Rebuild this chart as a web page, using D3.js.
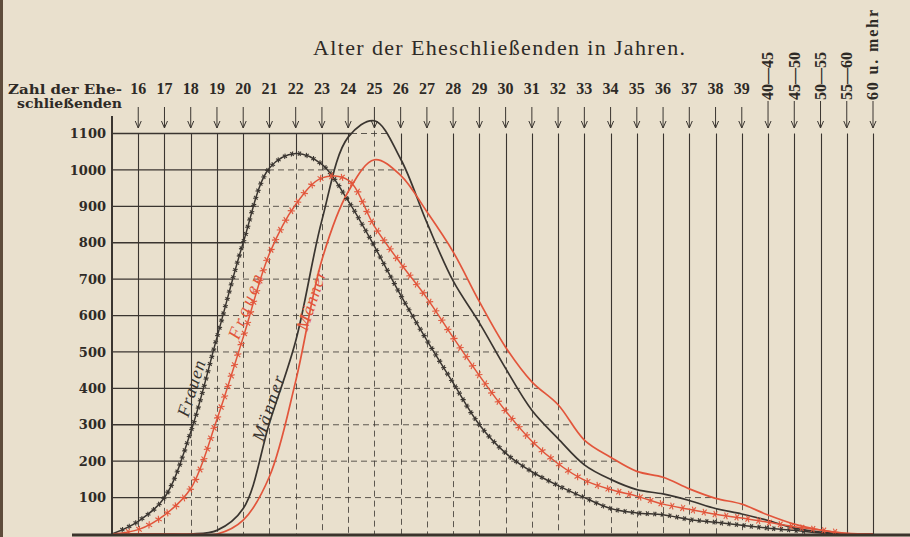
<!DOCTYPE html>
<html>
<head>
<meta charset="utf-8">
<script src="https://cdn.jsdelivr.net/npm/d3@7"></script>
<style>
    body { margin: 0; background: #e9e0cd; }
    svg { display: block; }
</style>
</head>
<body>
<svg id="chart" width="910" height="537"></svg>
<script>
// first entry "15" is the origin on the y axis, it gets no label
const ages = ["15", "16", "17", "18", "19", "20", "21", "22", "23", "24", "25", "26", "27", "28", "29",
    "30", "31", "32", "33", "34", "35", "36", "37", "38", "39", "40—45", "45—50", "50—55", "55—60", "60 u. mehr"];
const yTicks = [100, 200, 300, 400, 500, 600, 700, 800, 900, 1000, 1100];

const frauenSchwarz = [0, 35, 100, 280, 540, 800, 1005, 1045, 1015, 915, 790, 656, 532, 415, 300,
    222, 171, 133, 100, 70, 58, 53, 40, 32, 24, 16, 10, 3, 0, 0];
const maennerSchwarz = [0, 0, 0, 0, 10, 70, 305, 530, 862, 1090, 1135, 1030, 855, 695, 580,
    455, 340, 262, 190, 150, 122, 110, 92, 70, 55, 37, 16, 5, 0, 0];
const frauenRot = [0, 12, 52, 125, 315, 540, 770, 905, 978, 972, 845, 743, 648, 540, 435,
    338, 255, 193, 148, 122, 104, 82, 68, 54, 44, 32, 20, 11, 2, 0];
const maennerRot = [0, 0, 0, 0, 0, 38, 158, 420, 753, 940, 1028, 985, 885, 775, 638,
    513, 418, 355, 258, 211, 172, 156, 124, 98, 82, 52, 27, 11, 1, 0];

const width = 910, height = 537;
const svg = d3.select("#chart");

const x = d3.scalePoint().domain(ages).range([112, 873]);
const xi = d3.scaleLinear().domain([0, ages.length - 1]).range([112, 873]);
const y = d3.scaleLinear().domain([0, 1100]).range([534, 133.5]);

const ink = "#3a3530";
const red = "#e2553b";

svg.append("rect")
    .attr("width", width)
    .attr("height", height)
    .attr("fill", "#e9e0cd");

svg.append("rect")
    .attr("x", 0)
    .attr("y", 0)
    .attr("width", 3)
    .attr("height", height)
    .attr("fill", "#5e4c3b");

svg.append("defs")
    .append("clipPath")
    .attr("id", "plot-clip")
    .append("rect")
    .attr("x", 100)
    .attr("y", 0)
    .attr("width", 800)
    .attr("height", y(0));

svg.append("text")
    .attr("x", 313)
    .attr("y", 55)
    .attr("textLength", 372)
    .attr("lengthAdjust", "spacing")
    .style("font-family", "Liberation Serif")
    .style("font-size", "22px")
    .attr("fill", "#2e2a26")
    .text("Alter der Eheschließenden in Jahren.");

svg.append("text")
    .attr("x", 8)
    .attr("y", 94)
    .attr("textLength", 114)
    .attr("lengthAdjust", "spacingAndGlyphs")
    .style("font-family", "DejaVu Serif")
    .style("font-weight", "bold")
    .style("font-size", "13px")
    .attr("fill", "#2e2a26")
    .text("Zahl der Ehe-");

svg.append("text")
    .attr("x", 17)
    .attr("y", 108)
    .attr("textLength", 105)
    .attr("lengthAdjust", "spacingAndGlyphs")
    .style("font-family", "DejaVu Serif")
    .style("font-weight", "bold")
    .style("font-size", "13px")
    .attr("fill", "#2e2a26")
    .text("schließenden");

const gGrid = svg.append("g");
const gCurves = svg.append("g").attr("clip-path", "url(#plot-clip)");

const line = d3.line()
    .x((d, i) => x(ages[i]))
    .y(d => y(d))
    .curve(d3.curveCatmullRom.alpha(0.5));

const series = [
    {name: "frauenSchwarz", values: frauenSchwarz, color: ink, crossed: true},
    {name: "maennerSchwarz", values: maennerSchwarz, color: ink, crossed: false},
    {name: "frauenRot", values: frauenRot, color: red, crossed: true},
    {name: "maennerRot", values: maennerRot, color: red, crossed: false}
];

const paths = gCurves.selectAll("path.curve")
    .data(series)
    .enter()
    .append("path")
    .attr("class", "curve")
    .attr("d", d => line(d.values))
    .attr("fill", "none")
    .attr("stroke", d => d.color)
    .attr("stroke-width", d => d.crossed ? 1.5 : 1.7);

// upper envelope of all curves, per pixel column
const envTop = new Array(width).fill(Infinity);
paths.each(function() {
    const L = this.getTotalLength();
    for (let s = 0; s <= L; s += 0.5) {
        const p = this.getPointAtLength(s);
        const px = Math.round(p.x);
        const py = Math.min(p.y, y(0));
        if (py < envTop[px]) envTop[px] = py;
    }
});

const dash = "6,4";

// horizontal lines: solid left of the curves, dashed beneath them
yTicks.forEach(v => {
    const yv = y(v);
    let left = null, right = null;
    for (let px = 112; px <= 873; px++) {
        if (envTop[px] <= yv) {
            if (left === null) left = px;
            right = px;
        }
    }
    gGrid.append("line")
        .attr("x1", 112).attr("x2", left)
        .attr("y1", yv).attr("y2", yv)
        .attr("stroke", ink)
        .attr("stroke-width", 1.3);
    gGrid.append("line")
        .attr("x1", left).attr("x2", right)
        .attr("y1", yv).attr("y2", yv)
        .attr("stroke", ink)
        .attr("stroke-width", 1)
        .attr("stroke-dasharray", dash)
        .attr("opacity", 0.8);

    svg.append("text")
        .attr("x", 106)
        .attr("y", yv)
        .attr("dy", "0.36em")
        .style("text-anchor", "end")
        .style("font-family", "DejaVu Serif")
        .style("font-weight", "bold")
        .style("font-size", "13px")
        .attr("fill", "#2e2a26")
        .text(v);
});

// vertical lines: solid above the curves, dashed beneath them
ages.slice(1).forEach(a => {
    const xc = Math.round(x(a)) + 0.5;
    const top = y(1100);
    const e = envTop[Math.round(x(a))];
    if (e > top) {
        gGrid.append("line")
            .attr("x1", xc).attr("x2", xc)
            .attr("y1", top).attr("y2", e)
            .attr("stroke", ink)
            .attr("stroke-width", 1.1);
    }
    gGrid.append("line")
        .attr("x1", xc).attr("x2", xc)
        .attr("y1", e).attr("y2", y(0))
        .attr("stroke", ink)
        .attr("stroke-width", 1)
        .attr("stroke-dasharray", dash)
        .attr("opacity", 0.8);
});

// arrows and age labels
ages.slice(1).forEach(a => {
    const xc = x(a);
    const grouped = a.length > 2;
    svg.append("line")
        .attr("x1", xc).attr("x2", xc)
        .attr("y1", grouped ? 101 : 107).attr("y2", 128)
        .attr("stroke", ink)
        .attr("stroke-width", 1);
    svg.append("path")
        .attr("d", `M${xc - 3},${121} L${xc},${128} L${xc + 3},${121}`)
        .attr("fill", "none")
        .attr("stroke", ink)
        .attr("stroke-width", 1);
    if (!grouped) {
        svg.append("text")
            .attr("x", xc)
            .attr("y", 94)
            .style("text-anchor", "middle")
            .style("font-family", "Liberation Serif")
            .style("font-weight", "bold")
            .style("font-size", "16px")
            .attr("fill", "#2e2a26")
            .text(a);
    } else {
        const t = svg.append("text")
            .attr("transform", `translate(${xc}, 100) rotate(-90)`)
            .attr("dy", "0.34em")
            .style("text-anchor", "start")
            .style("font-family", "Liberation Serif")
            .style("font-weight", "bold")
            .style("font-size", "16px")
            .attr("fill", "#2e2a26")
            .text(a);
        if (a === "60 u. mehr") t.attr("textLength", 90).attr("lengthAdjust", "spacing");
    }
});

// y axis and base line
svg.append("line")
    .attr("x1", 112).attr("x2", 112)
    .attr("y1", 116).attr("y2", y(0))
    .attr("stroke", ink)
    .attr("stroke-width", 2);

svg.append("line")
    .attr("x1", 72).attr("x2", width)
    .attr("y1", y(0) + 1).attr("y2", y(0) + 1)
    .attr("stroke", "#3b342c")
    .attr("stroke-width", 3);

// small crosses along the "Frauen" curves
paths.filter(d => d.crossed).each(function(d) {
    const node = this;
    const L = node.getTotalLength();
    const step = d.color === red ? 11 : 7.5;
    const size = d.color === red ? 3.6 : 2.6;
    for (let s = step / 2; s < L; s += step) {
        const p = node.getPointAtLength(s);
        if (p.y > y(0) - 2) continue;
        const a = node.getPointAtLength(Math.max(0, s - 1));
        const b = node.getPointAtLength(Math.min(L, s + 1));
        const ang = Math.atan2(b.y - a.y, b.x - a.x);
        [Math.PI / 3, -Math.PI / 3].forEach(o => {
            const dx = Math.cos(ang + o) * size, dy = Math.sin(ang + o) * size;
            gCurves.append("line")
                .attr("x1", p.x - dx).attr("y1", p.y - dy)
                .attr("x2", p.x + dx).attr("y2", p.y + dy)
                .attr("stroke", d.color)
                .attr("stroke-width", 1.1);
        });
    }
});

// curve labels, placed in data units
const labels = [
    {text: "Frauen", at: 3.01, v: 400, angle: -72.5, color: ink, len: 58},
    {text: "Frauen", at: 5.07, v: 625, angle: -69, color: red, len: 68},
    {text: "Männer", at: 5.95, v: 346, angle: -71.5, color: ink, len: 68},
    {text: "Männer", at: 7.58, v: 642, angle: -72, color: red, len: 62}
];

svg.selectAll("text.curve-label")
    .data(labels)
    .enter()
    .append("text")
    .attr("class", "curve-label")
    .attr("transform", d => `translate(${xi(d.at)}, ${y(d.v)}) rotate(${d.angle})`)
    .attr("dy", "0.35em")
    .attr("textLength", d => d.len)
    .attr("lengthAdjust", "spacing")
    .style("text-anchor", "middle")
    .style("font-family", "Liberation Serif")
    .style("font-style", "italic")
    .style("font-size", "18px")
    .attr("fill", d => d.color)
    .text(d => d.text);
</script>
</body>
</html>
